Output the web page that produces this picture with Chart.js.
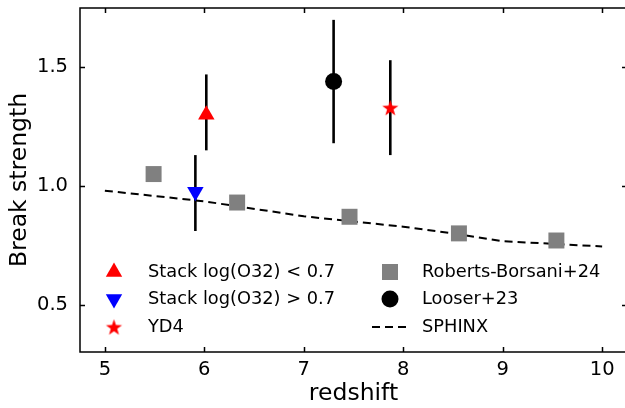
<!DOCTYPE html>
<html>
<head>
<meta charset="utf-8">
<script src="https://cdn.jsdelivr.net/npm/chart.js@4"></script>
<style>
html, body { margin: 0; padding: 0; background: #fff; overflow: hidden; }
canvas { display: block; }
</style>
</head>
<body>
<canvas id="grafica-break" width="630" height="408"></canvas>
<script>
// valores
const xTicks = [5, 6, 7, 8, 9, 10];
const yTicks = [0.5, 1.0, 1.5];

const lowO32_z = [6.02];
const lowO32_val = [1.30];
const lowO32_lo = [1.15];
const lowO32_hi = [1.47];

const highO32_z = [5.91];
const highO32_val = [0.975];
const highO32_lo = [0.81];
const highO32_hi = [1.13];

const yd4_z = [7.87];
const yd4_val = [1.33];
const yd4_lo = [1.13];
const yd4_hi = [1.53];

const looser_z = [7.30];
const looser_val = [1.44];
const looser_lo = [1.18];
const looser_hi = [1.70];

const rb_z = [5.49, 6.33, 7.46, 8.56, 9.54];
const rb_val = [1.05, 0.93, 0.87, 0.80, 0.77];

const sphinx_z = [5, 6, 7, 8, 8.5, 9, 10];
const sphinx_val = [0.98, 0.935, 0.872, 0.828, 0.80, 0.767, 0.745];

const FONT = "'DejaVu Sans', sans-serif";

function puntos(xs, ys) {
    return xs.map((v, i) => ({ x: v, y: ys[i] }));
}

function estrella(r, color) {
    const c = document.createElement('canvas');
    c.width = c.height = Math.ceil(r * 2 + 2);
    const g = c.getContext('2d');
    const cx = c.width / 2, cy = c.height / 2 + 0.8;
    g.beginPath();
    for (let i = 0; i < 10; i++) {
        const rr = i % 2 === 0 ? r : r * 0.4;
        const ang = -Math.PI / 2 + i * Math.PI / 5;
        g.lineTo(cx + rr * Math.cos(ang), cy + rr * Math.sin(ang));
    }
    g.closePath();
    g.fillStyle = color;
    g.fill();
    return c;
}
const starImg = estrella(8.5, '#ff0000');

// barras de error verticales
const errores = [
    { xs: lowO32_z, lo: lowO32_lo, hi: lowO32_hi },
    { xs: highO32_z, lo: highO32_lo, hi: highO32_hi },
    { xs: yd4_z, lo: yd4_lo, hi: yd4_hi },
    { xs: looser_z, lo: looser_lo, hi: looser_hi }
];

const erroresPlugin = {
    id: 'errores',
    beforeDatasetsDraw(chart) {
        const { ctx, scales: { x, y } } = chart;
        ctx.save();
        ctx.strokeStyle = '#000';
        ctx.lineWidth = 2.6;
        errores.forEach(e => {
            e.xs.forEach((v, i) => {
                const px = x.getPixelForValue(v);
                ctx.beginPath();
                ctx.moveTo(px, y.getPixelForValue(e.lo[i]));
                ctx.lineTo(px, y.getPixelForValue(e.hi[i]));
                ctx.stroke();
            });
        });
        ctx.restore();
    }
};

// marco con ticks hacia dentro en los cuatro lados
const marcoPlugin = {
    id: 'marco',
    afterDraw(chart) {
        const { ctx, chartArea: a, scales: { x, y } } = chart;
        ctx.save();
        ctx.strokeStyle = '#000';
        ctx.lineWidth = 1.5;
        ctx.strokeRect(a.left, a.top, a.right - a.left, a.bottom - a.top);
        ctx.beginPath();
        xTicks.forEach(v => {
            const px = Math.round(x.getPixelForValue(v)) + 0.5;
            ctx.moveTo(px, a.bottom); ctx.lineTo(px, a.bottom - 5);
            ctx.moveTo(px, a.top); ctx.lineTo(px, a.top + 5);
        });
        yTicks.forEach(v => {
            const py = Math.round(y.getPixelForValue(v)) + 0.5;
            ctx.moveTo(a.left, py); ctx.lineTo(a.left + 5, py);
            ctx.moveTo(a.right, py); ctx.lineTo(a.right - 5, py);
        });
        ctx.stroke();
        ctx.restore();
    }
};

// leyenda en dos columnas dentro del area
const leyendaPlugin = {
    id: 'leyenda',
    afterDraw(chart) {
        const ctx = chart.ctx;
        ctx.save();
        ctx.font = '17.8px ' + FONT;
        ctx.fillStyle = '#000';
        ctx.textBaseline = 'middle';
        const filas = [272, 299, 327];
        // columna 1
        ctx.fillStyle = '#ff0000';
        ctx.beginPath();
        ctx.moveTo(114, filas[0] - 9.5); ctx.lineTo(122.2, filas[0] + 4.75); ctx.lineTo(105.8, filas[0] + 4.75);
        ctx.closePath(); ctx.fill();
        ctx.fillStyle = '#0000ff';
        ctx.beginPath();
        ctx.moveTo(114, filas[1] + 9.5); ctx.lineTo(122.2, filas[1] - 4.75); ctx.lineTo(105.8, filas[1] - 4.75);
        ctx.closePath(); ctx.fill();
        ctx.drawImage(starImg, 114 - starImg.width / 2, filas[2] - starImg.height / 2);
        ctx.fillStyle = '#000';
        ctx.fillText('Stack log(O32) < 0.7', 148, filas[0]);
        ctx.fillText('Stack log(O32) > 0.7', 148, filas[1]);
        ctx.fillText('YD4', 148, filas[2]);
        // columna 2
        ctx.fillStyle = '#808080';
        ctx.fillRect(390 - 8, filas[0] - 8, 16, 16);
        ctx.fillStyle = '#000';
        ctx.beginPath();
        ctx.arc(390, filas[1], 8.5, 0, Math.PI * 2);
        ctx.fill();
        ctx.strokeStyle = '#000';
        ctx.lineWidth = 2;
        ctx.setLineDash([8, 5]);
        ctx.beginPath();
        ctx.moveTo(372, filas[2]); ctx.lineTo(407, filas[2]);
        ctx.stroke();
        ctx.setLineDash([]);
        ctx.fillText('Roberts-Borsani+24', 422, filas[0]);
        ctx.fillText('Looser+23', 422, filas[1]);
        ctx.fillText('SPHINX', 422, filas[2]);
        ctx.restore();
    }
};

Chart.defaults.color = '#000';
Chart.defaults.font.family = FONT;

const ctx = document.getElementById('grafica-break').getContext('2d');
new Chart(ctx, {
    type: 'scatter',
    data: {
        datasets: [
            {
                label: 'Stack log(O32) < 0.7',
                data: puntos(lowO32_z, lowO32_val),
                pointStyle: 'triangle',
                pointRadius: 9.5,
                backgroundColor: '#ff0000',
                borderWidth: 0
            },
            {
                label: 'Stack log(O32) > 0.7',
                data: puntos(highO32_z, highO32_val),
                pointStyle: 'triangle',
                pointRotation: 180,
                pointRadius: 9.5,
                backgroundColor: '#0000ff',
                borderWidth: 0
            },
            {
                label: 'YD4',
                data: puntos(yd4_z, yd4_val),
                pointStyle: starImg,
                pointRadius: 8.5
            },
            {
                label: 'Looser+23',
                data: puntos(looser_z, looser_val),
                pointStyle: 'circle',
                pointRadius: 8.5,
                backgroundColor: '#000',
                borderWidth: 0
            },
            {
                label: 'Roberts-Borsani+24',
                data: puntos(rb_z, rb_val),
                pointStyle: 'rect',
                pointRadius: 11.3,
                backgroundColor: '#808080',
                borderWidth: 0
            },
            {
                label: 'SPHINX',
                data: puntos(sphinx_z, sphinx_val),
                showLine: true,
                pointRadius: 0,
                borderColor: '#000',
                borderWidth: 2,
                borderDash: [8, 5],
                tension: 0
            }
        ]
    },
    options: {
        responsive: false,
        animation: false,
        events: [],
        layout: { autoPadding: false, padding: { left: 0, top: 8, right: 3, bottom: 0 } },
        plugins: {
            legend: { display: false },
            tooltip: { enabled: false }
        },
        scales: {
            x: {
                type: 'linear',
                min: 4.75,
                max: 10.25,
                afterBuildTicks: s => { s.ticks = xTicks.map(v => ({ value: v })); },
                afterFit: s => { s.height = 56; s.paddingLeft = 0; s.paddingRight = 0; },
                grid: { display: false, drawTicks: false },
                border: { display: false },
                ticks: { font: { size: 19.5 }, padding: 6, maxRotation: 0, callback: v => String(v) },
                title: { display: true, text: 'redshift', font: { size: 23.5 }, padding: { top: 0, bottom: 0 } }
            },
            y: {
                type: 'linear',
                min: 0.3,
                max: 1.75,
                afterBuildTicks: s => { s.ticks = yTicks.map(v => ({ value: v })); },
                afterFit: s => { s.width = 80; s.paddingTop = 0; s.paddingBottom = 0; },
                grid: { display: false, drawTicks: false },
                border: { display: false },
                ticks: { font: { size: 19.5 }, padding: 12, callback: v => v.toFixed(1) },
                title: { display: true, text: 'Break strength', font: { size: 23.5 }, padding: { top: 6, bottom: 0 } }
            }
        }
    },
    plugins: [erroresPlugin, marcoPlugin, leyendaPlugin]
});
</script>
</body>
</html>
